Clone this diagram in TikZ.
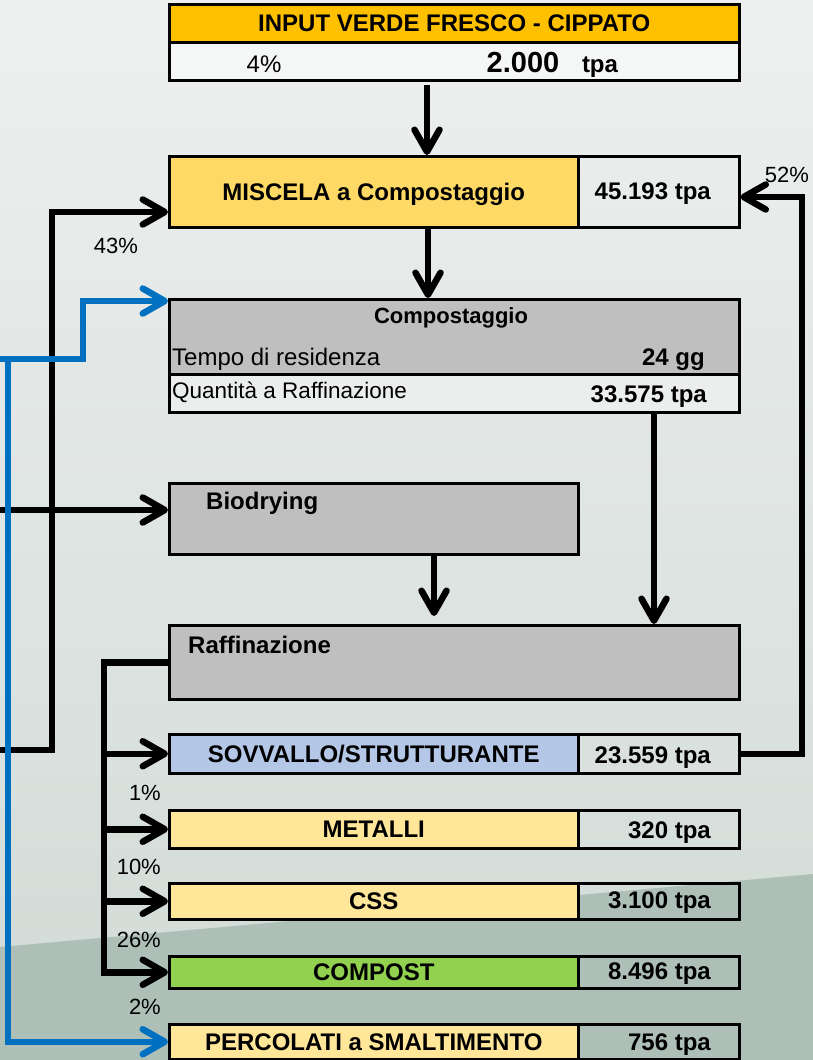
\documentclass[tikz,border=0pt]{standalone}
\usepackage{fontspec}
\setmainfont{Liberation Sans}
\usetikzlibrary{arrows.meta}

\definecolor{bgtop}{HTML}{EDF0EF}
\definecolor{bgbot}{HTML}{D1DAD6}
\definecolor{bgdark}{HTML}{AEBFB7}
\definecolor{orangehead}{HTML}{FFC000}
\definecolor{miscela}{HTML}{FFD966}
\definecolor{grigio}{HTML}{BFBFBF}
\definecolor{sovvallo}{HTML}{B4C7E7}
\definecolor{giallo}{HTML}{FFE699}
\definecolor{verde}{HTML}{92D050}
\definecolor{blu}{HTML}{0070C0}

\begin{document}
\begin{tikzpicture}[x=1pt,y=-1pt,
  box/.style={draw=black,line width=2.5pt,inner sep=0pt,anchor=north west,
    text height=17pt,text depth=0pt,font=\fontsize{24}{28}\selectfont\bfseries},
  lbl/.style={inner sep=0pt,font=\fontsize{24}{28}\selectfont\bfseries},
  val/.style={lbl,anchor=base east},
  plain/.style={inner sep=0pt,anchor=base west,font=\fontsize{24}{28}\selectfont},
  perc/.style={inner sep=0pt,font=\fontsize{22}{26}\selectfont},
  flow/.style={line width=6.5pt,-{Straight Barb[length=22pt,width=25pt,round]}},
  flowb/.style={flow,draw=blu}]

\useasboundingbox (0,0) rectangle (813,1060);

% background
\shade[top color=bgtop,bottom color=bgbot] (0,0) rectangle (813,1060);
\fill[bgdark] (0,947) -- (813,874) -- (813,1060) -- (0,1060) -- cycle;

% input
\node[box,fill=orangehead,minimum width=570pt,minimum height=38pt] (inhead) at (168,3) {INPUT VERDE FRESCO - CIPPATO};
\node[box,fill=white,fill opacity=.5,minimum width=570pt,minimum height=38pt] (inrow) at (168,41) {};
\node[plain,anchor=base] (inperc) at (264,72) {4\%};
\node[lbl,anchor=base,font=\fontsize{29}{32}\selectfont\bfseries] (inval) at (523,72) {2.000};
\node[lbl,anchor=base] (intpa) at (600,72) {tpa};

% miscela
\node[box,fill=miscela,minimum width=409pt,minimum height=71pt] (misL) at (168,155) {MISCELA a Compostaggio};
\node[box,minimum width=161pt,minimum height=71pt] (misR) at (577,155) {};
\node[val] (misval) at (711,199) {45.193 tpa};

% compostaggio
\node[box,fill=grigio,minimum width=570pt,minimum height=75pt] (comp) at (168,298) {};
\node[box,fill=white,fill opacity=.3,minimum width=570pt,minimum height=38pt] (crow) at (168,373) {};
\node[lbl,anchor=base,font=\fontsize{22}{26}\selectfont\bfseries] (comptit) at (451,323) {Compostaggio};
\node[plain] (tempo) at (172,365) {Tempo di residenza};
\node[val] (tempoval) at (705,365) {24 gg};
\node[plain,font=\fontsize{22.5}{26}\selectfont] (quant) at (172,398) {Quantità a Raffinazione};
\node[val] (quantval) at (707,402) {33.575 tpa};

% biodrying e raffinazione
\node[box,fill=grigio,minimum width=409pt,minimum height=71pt] (bio) at (168,482) {};
\node[lbl,anchor=base west] (biotit) at (206,509) {Biodrying};
\node[box,fill=grigio,minimum width=570pt,minimum height=74pt] (raff) at (168,624) {};
\node[lbl,anchor=base west] (rafftit) at (188,653) {Raffinazione};

% uscite
\node[box,fill=sovvallo,minimum width=409pt,minimum height=39pt] (sovL) at (168,733) {SOVVALLO/STRUTTURANTE};
\node[box,minimum width=161pt,minimum height=39pt] (sovR) at (577,733) {};
\node[val] (sovval) at (711,763) {23.559 tpa};

\node[box,fill=giallo,minimum width=409pt,minimum height=38pt] (metL) at (168,809) {METALLI};
\node[box,minimum width=161pt,minimum height=38pt] (metR) at (577,809) {};
\node[val] (metval) at (711,838) {320 tpa};

\node[box,fill=giallo,minimum width=409pt,minimum height=36pt] (cssL) at (168,882) {CSS};
\node[box,minimum width=161pt,minimum height=36pt] (cssR) at (577,882) {};
\node[val] (cssval) at (711,908) {3.100 tpa};

\node[box,fill=verde,minimum width=409pt,minimum height=32pt] (cmpL) at (168,955) {COMPOST};
\node[box,minimum width=161pt,minimum height=32pt] (cmpR) at (577,955) {};
\node[val] (cmpval) at (711,979) {8.496 tpa};

\node[box,fill=giallo,minimum width=409pt,minimum height=35pt] (percL) at (168,1023) {PERCOLATI a SMALTIMENTO};
\node[box,minimum width=161pt,minimum height=35pt] (percR) at (577,1023) {};
\node[val] (percval) at (711,1050) {756 tpa};

% percentuali
\node[perc,anchor=base] (p43) at (116,253) {43\%};
\node[perc,anchor=base] (p52) at (787,182) {52\%};
\node[perc,anchor=base east] (p1) at (161,800) {1\%};
\node[perc,anchor=base east] (p10) at (161,874) {10\%};
\node[perc,anchor=base east] (p26) at (161,947) {26\%};
\node[perc,anchor=base east] (p2) at (161,1014) {2\%};

% frecce verticali
\coordinate (a1) at (427,85);
\coordinate (a2) at (428,0);
\coordinate (a3) at (654,0);
\coordinate (a4) at (434,616);
\draw[flow] (a1) -- (a1 |- misL.north);
\draw[flow] (a2 |- misL.south) -- (a2 |- comp.north);
\draw[flow] (a3 |- crow.south) -- (a3 |- raff.north);
\draw[flow] (a4 |- bio.south) -- (a4);

% ricircoli a sinistra
\coordinate (l1) at (0,750);
\coordinate (l1t) at (52,212);
\draw[flow] (l1) -| (l1t) -- (l1t -| misL.west);
\coordinate (l2) at (0,510);
\draw[flow] (l2) -- (l2 -| bio.west);

\coordinate (b1) at (0,359);
\coordinate (b2) at (83,301);
\coordinate (b3) at (8,359);
\draw[flowb] (b1) -| (b2) -- (b2 -| comp.west);
\draw[flowb] (b3) |- (percL.west);

% raffinazione -> uscite
\coordinate (rx) at (104,0);
\draw[flow] (raff.west) -| (rx |- cmpL.west) -- (cmpL.west);
\foreach \b in {sovL,metL,cssL}
  \draw[flow] (rx |- \b.west) -- (\b.west);

% ricircolo sovvallo
\coordinate (rr) at (802,197);
\draw[flow] (sovR.east) -| (rr) -- (rr -| misR.east);

\end{tikzpicture}
\end{document}
